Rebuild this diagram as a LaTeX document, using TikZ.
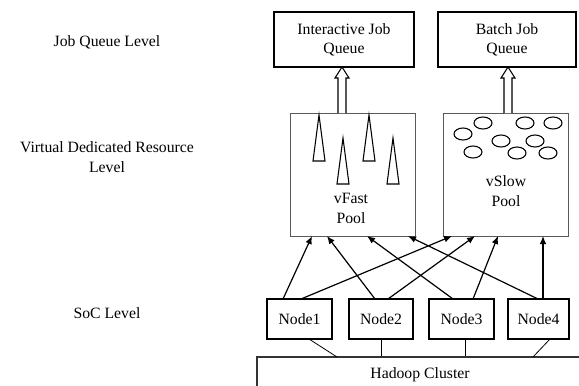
\documentclass[tikz,border=0pt]{standalone}
\usepackage{fontspec}
\setmainfont{Liberation Serif}
\usetikzlibrary{arrows.meta}

\begin{document}
\begin{tikzpicture}[x=0.75pt, y=-0.75pt,
    every node/.style={font=\fontsize{11.8}{14.5}\selectfont, align=center, inner sep=0pt},
    box/.style={draw, line width=0.9pt, minimum height=41.25pt},
    pool/.style={draw=black!65, line width=0.7pt, minimum width=93.75pt, minimum height=92.25pt},
    arr/.style={line width=0.9pt, -{Latex[length=6pt, width=5pt]}},
    link/.style={line width=0.6pt}]
    \useasboundingbox (0,0) rectangle (579,386);
    \clip (0,0) rectangle (579,386);

    % Level names on the left
    \node (lq) at (107,42) {Job Queue Level};
    \node (lv) at (107,157) {Virtual Dedicated Resource\\Level};
    \node (ls) at (107,313) {SoC Level};

    % Job queues
    \node[box, minimum width=105pt] (iq) at (344,39.5) {Interactive Job\\Queue};
    \node[box, minimum width=103.5pt] (bq) at (507,39.5) {Batch Job\\Queue};

    % Pools
    \node[pool] (fast) at (352.5,174.5) {};
    \node[pool] (slow) at (506,174.5) {};
    \node (fastlbl) at (351,208.5) {vFast\\Pool};
    \node (slowlbl) at (506,191) {vSlow\\Pool};

    % Tasks in the fast pool
    \foreach \x/\y in {319/115, 343/138, 369/115, 393/138}
        \draw[line width=0.8pt] (\x-6,\y+46) -- (\x,\y) -- (\x+6,\y+46) -- cycle;

    % Tasks in the slow pool
    \foreach \x/\y in {483/123, 525/123, 553/123, 463/134, 501/141, 535/141, 473/152, 517/153, 548/153}
        \draw[line width=0.8pt] (\x,\y) ellipse (6.75pt and 4.5pt);

    % Hollow arrows up to the queues
    \foreach \x in {342,508}
        \draw[line width=0.8pt, fill=white] (\x-4,113) -- (\x-4,78) -- (\x-7,78) -- (\x,67)
            -- (\x+7,78) -- (\x+4,78) -- (\x+4,113);

    % SoC nodes
    \node[box, minimum width=48.75pt, minimum height=30pt] (n1) at (299.5,319) {Node1};
    \node[box, minimum width=48pt, minimum height=30pt] (n2) at (381,319) {Node2};
    \node[box, minimum width=48.75pt, minimum height=30pt] (n3) at (461.5,319) {Node3};
    \node[box, minimum width=45.75pt, minimum height=30pt] (n4) at (538.5,319) {Node4};
    \node[draw=black!80, line width=0.9pt, minimum width=244.5pt, minimum height=27pt] (hadoop) at (420,375) {Hadoop Cluster};

    % Where the arrows leave the nodes
    \coordinate (a1) at (283,299);
    \coordinate (a2) at (301,299);
    \coordinate (a3) at (375,299);
    \coordinate (a4) at (388,299);
    \coordinate (a5) at (453,299);
    \coordinate (a6) at (473,299);
    \coordinate (a7) at (538,299);
    \coordinate (a8) at (543,299);
    % Where they reach the pools
    \coordinate (f1) at (312,236);
    \coordinate (f2) at (327,236);
    \coordinate (f3) at (367,236);
    \coordinate (f4) at (408,236);
    \coordinate (s1) at (452,236);
    \coordinate (s2) at (475,236);
    \coordinate (s3) at (498,236);
    \coordinate (s4) at (543,236);

    \draw[arr] (a1) -- (f1);
    \draw[arr] (a2) -- (s1);
    \draw[arr] (a3) -- (f2);
    \draw[arr] (a4) -- (s2);
    \draw[arr] (a5) -- (f3);
    \draw[arr] (a6) -- (s3);
    \draw[arr] (a7) -- (f4);
    \draw[arr] (a8) -- (s4);

    % Nodes down to the cluster
    \coordinate (b1) at (309,339);
    \coordinate (b4) at (550,339);
    \coordinate (h1) at (337,357);
    \coordinate (h4) at (533,357);
    \draw[link] (b1) -- (h1);
    \draw[link] (n2.south) -- (n2.south |- hadoop.north);
    \draw[link] (n3.south -| 465,0) -- (hadoop.north -| 465,0);
    \draw[link] (b4) -- (h4);
\end{tikzpicture}
\end{document}
